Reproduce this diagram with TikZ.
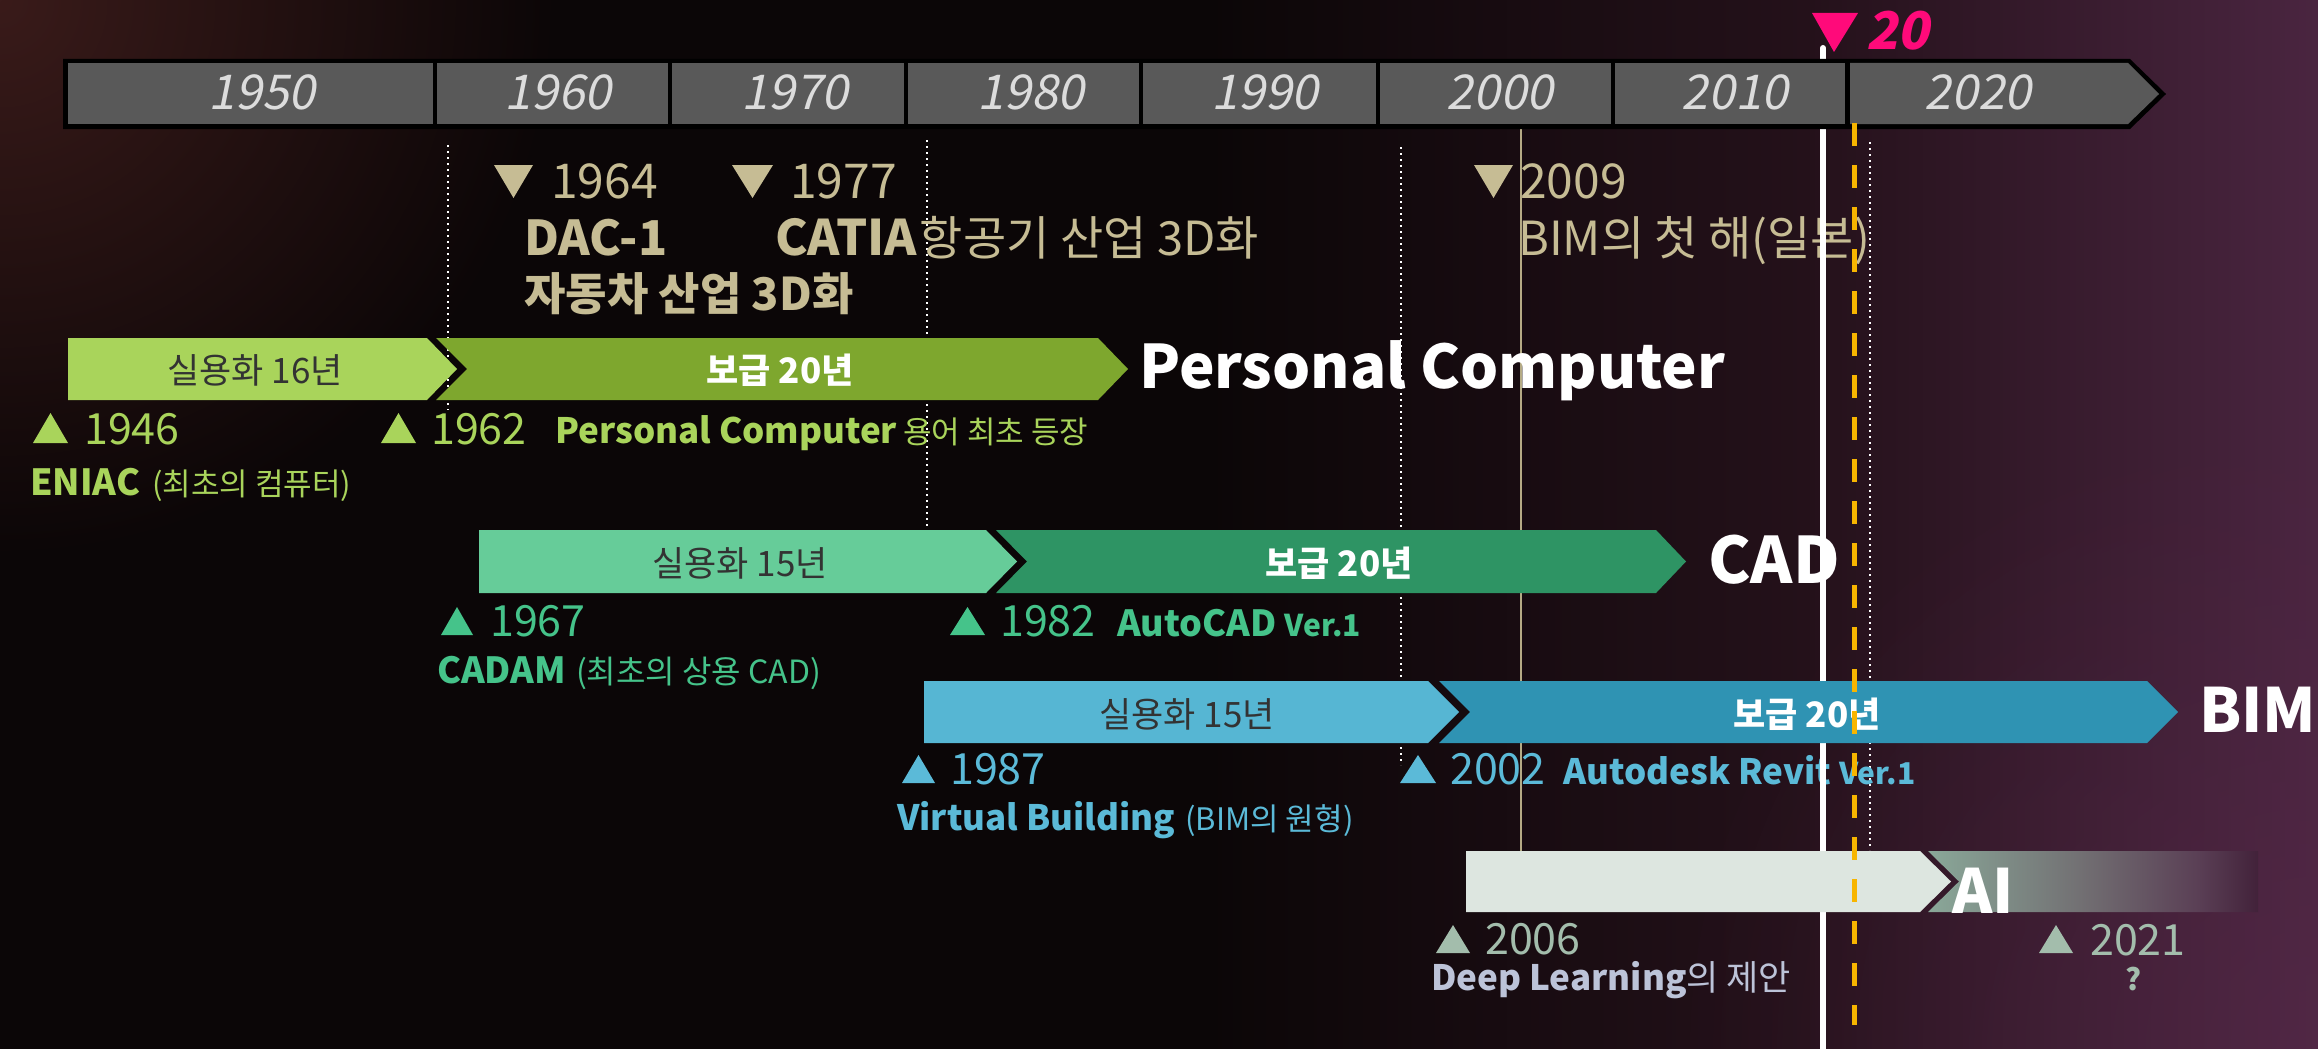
\documentclass[tikz,border=0pt]{standalone}
\usepackage{fontspec}
\setmainfont{Noto Sans CJK KR}
\newfontfamily\slantfont[FakeSlant=0.2]{Noto Sans CJK KR}
\usetikzlibrary{fadings}

\newcommand{\fsz}[1]{\fontsize{#1pt}{#1pt}\selectfont}

% palette
\definecolor{bgA}{HTML}{0B0607}
\definecolor{bgB}{HTML}{24111A}
\definecolor{bgC}{HTML}{4A2540}
\definecolor{glowred}{HTML}{3A1B1A}
\definecolor{glowpurple}{HTML}{5A2A4C}
\definecolor{cellgray}{HTML}{595959}
\definecolor{yeargray}{HTML}{DCDCDC}
\definecolor{tanc}{HTML}{C6BC94}
\definecolor{tanline}{HTML}{B5AB85}
\definecolor{hotpink}{HTML}{FF0A7A}
\definecolor{amber}{HTML}{F7B500}
\definecolor{darktext}{HTML}{333333}
\definecolor{pcA}{HTML}{A9D45B}
\definecolor{pcB}{HTML}{7EA72E}
\definecolor{cadA}{HTML}{66CC99}
\definecolor{cadB}{HTML}{2E9464}
\definecolor{cadT}{HTML}{45C38A}
\definecolor{bimA}{HTML}{56B6D3}
\definecolor{bimB}{HTML}{2F93B3}
\definecolor{bimT}{HTML}{5BBAD8}
\definecolor{aiA}{HTML}{DDE6E0}
\definecolor{aiT}{HTML}{A3BDAC}
\definecolor{dlT}{HTML}{BCC3D8}
\definecolor{aiG1}{HTML}{8AA899}
\definecolor{aiG2}{HTML}{727073}
\definecolor{aiG3}{HTML}{5A3F55}
\definecolor{aiG4}{HTML}{42223A}

\pgfdeclarehorizontalshading{bgshade}{100bp}{color(0bp)=(bgA); color(25bp)=(bgA); color(51bp)=(bgA); color(64bp)=(bgB); color(75bp)=(bgC); color(100bp)=(bgC)}
\pgfdeclarehorizontalshading{aishade}{100bp}{color(0bp)=(aiG1); color(25bp)=(aiG1); color(48bp)=(aiG2); color(66bp)=(aiG3); color(75bp)=(aiG4); color(100bp)=(aiG4)}
\tikzfading[name=glowfade, inner color=transparent!0, outer color=transparent!100]

\tikzset{
  lbl/.style={inner sep=0pt, anchor=base west},
  yr/.style={inner sep=0pt, anchor=base, text=yeargray, font=\slantfont\fsz{48}},
  barlbl/.style={inner sep=0pt, anchor=base, font=\fsz{35}, text=darktext},
  barlblb/.style={inner sep=0pt, anchor=base, font=\fsz{35}\bfseries, text=white},
  biglbl/.style={inner sep=0pt, anchor=base west, font=\fsz{61}\bfseries, text=white},
  yearlbl/.style={inner sep=0pt, anchor=base west, font=\fsz{43}},
  dotline/.style={white, line width=2pt, dash pattern=on 2pt off 4pt},
}

\begin{document}
\begin{tikzpicture}[x=1pt,y=-1pt]
\useasboundingbox (0,0) rectangle (2318,1049);

% ---------- background ----------
\begin{scope}
  \clip (0,0) rectangle (2318,1049);
  \shade[shading=bgshade] (0,0) rectangle (2318,1049);
  \fill[glowred, path fading=glowfade] (0,0) circle [radius=560];
  \fill[glowpurple, opacity=0.45, path fading=glowfade] (2318,1049) circle [radius=650];
\end{scope}

% ---------- guide lines ----------
\draw[dotline] (448,145) -- (448,410);
\draw[dotline] (927,140) -- (927,530);
\draw[dotline] (1401,147) -- (1401,765);
\draw[dotline] (1870,142) -- (1870,850);
\draw[tanline, line width=2pt] (1521,128) -- (1521,912);

% ---------- milestone notes above the bars ----------
\fill[tanc] (494,165) -- (533,165) -- (513.5,198) -- cycle;
\node[lbl, text=tanc, font=\fsz{48}] (n1964) at (551,198) {1964};
\fill[tanc] (732,165) -- (773,165) -- (752.5,198) -- cycle;
\node[lbl, text=tanc, font=\fsz{48}] (n1977) at (790,198) {1977};
\node[lbl, text=tanc, font=\fsz{48}\bfseries] (dac) at (524,255) {DAC-1};
\node[lbl, text=tanc, font=\fsz{47}] (catia) at (775,255) {{\fsz{49}\bfseries CATIA}\hspace{3pt}항공기 산업 3D화};
\node[lbl, text=tanc, font=\fsz{45}\bfseries] (auto3d) at (524,310) {자동차 산업 3D화};
\fill[tanc] (1474,165) -- (1513,165) -- (1493.5,198) -- cycle;
\node[lbl, text=tanc, font=\fsz{48}] (n2009) at (1520,198) {2009};
\node[lbl, text=tanc, font=\fsz{47}] (bimjp) at (1518,255) {BIM의 첫 해(일본)};

% ---------- Personal Computer notes ----------
\fill[pcA] (33,443) -- (68,443) -- (50.5,413) -- cycle;
\node[yearlbl, text=pcA] (n1946) at (84,444) {1946};
\fill[pcA] (381,443) -- (416,443) -- (398.5,413) -- cycle;
\node[yearlbl, text=pcA] (n1962) at (431,444) {1962};
\node[lbl, text=pcA, font=\fsz{35}\bfseries] (pcterm) at (555,443) {Personal Computer\hspace{6pt}{\mdseries\fsz{31}용어 최초 등장}};
\node[lbl, text=pcA, font=\fsz{36}\bfseries] (eniac) at (30,495) {ENIAC\hspace{12pt}{\mdseries\fsz{31}(최초의 컴퓨터)}};

% ---------- CAD notes ----------
\fill[cadT] (441,635) -- (473,635) -- (457,607) -- cycle;
\node[yearlbl, text=cadT] (n1967) at (490,636) {1967};
\fill[cadT] (950,635) -- (985,635) -- (967.5,607) -- cycle;
\node[yearlbl, text=cadT] (n1982) at (1000,636) {1982};
\node[lbl, text=cadT, font=\fsz{36}\bfseries] (acad) at (1117,636) {AutoCAD {\fsz{30}Ver.1}};
\node[lbl, text=cadT, font=\fsz{36}\bfseries] (cadam) at (437,683) {CADAM\hspace{10pt}{\mdseries\fsz{32}(최초의 상용 CAD)}};

% ---------- BIM notes ----------
\fill[bimT] (902,783) -- (935,783) -- (918.5,755) -- cycle;
\node[yearlbl, text=bimT] (n1987) at (950,784) {1987};
\fill[bimT] (1400,783) -- (1436,783) -- (1418,755) -- cycle;
\node[yearlbl, text=bimT] (n2002) at (1450,784) {2002};
\node[lbl, text=bimT, font=\fsz{35}\bfseries] (revit) at (1563,784) {Autodesk Revit {\fsz{30}Ver.1}};
\node[lbl, text=bimT, font=\fsz{35}\bfseries] (vb) at (897,830) {Virtual Building\hspace{10pt}{\mdseries\fsz{31}(BIM의 원형)}};

% ---------- AI notes ----------
\fill[aiT] (1436,953) -- (1470,953) -- (1453,925) -- cycle;
\node[yearlbl, text=aiT] (n2006) at (1485,954) {2006};
\node[lbl, text=dlT, font=\fsz{35}] (deepl) at (1431,990) {\textbf{Deep Learning}의 제안};
\fill[aiT] (2039,953) -- (2073,953) -- (2056,925) -- cycle;
\node[yearlbl, text=aiT] (n2021) at (2090,955) {2021};
\node[inner sep=0pt, anchor=base, text=aiT, font=\fsz{30}\bfseries] (qmark) at (2134,990) {?};

% ---------- present-day marker ----------
\draw[white, line width=6pt, line cap=round] (1823,48) -- (1823,1049);

% ---------- decade ruler ----------
\fill[black] (63,59) -- (2130,59) -- (2166,94) -- (2130,129) -- (63,129) -- cycle;
\fill[cellgray] (68,63) rectangle (433,124);
\fill[cellgray] (437,63) rectangle (668,124);
\fill[cellgray] (672,63) rectangle (904,124);
\fill[cellgray] (908,63) rectangle (1139,124);
\fill[cellgray] (1143,63) rectangle (1376,124);
\fill[cellgray] (1380,63) rectangle (1611,124);
\fill[cellgray] (1615,63) rectangle (1845,124);
\fill[cellgray] (1850,63) -- (2128,63) -- (2159,94) -- (2128,124) -- (1850,124) -- cycle;
\node[yr] (d1950) at (262,110) {1950};
\node[yr] (d1960) at (558,110) {1960};
\node[yr] (d1970) at (795,110) {1970};
\node[yr] (d1980) at (1031,110) {1980};
\node[yr] (d1990) at (1265,110) {1990};
\node[yr] (d2000) at (1500,110) {2000};
\node[yr] (d2010) at (1735,110) {2010};
\node[yr] (d2020) at (1978,110) {2020};

% ---------- technology bars ----------
% Personal Computer
\fill[pcA] (68,338) -- (427,338) -- (457,369) -- (427,400) -- (68,400) -- cycle;
\fill[pcB] (436,338) -- (1098,338) -- (1128,369) -- (1098,400) -- (436,400) -- (467,369) -- cycle;
\node[barlbl] (pc1) at (255,383) {실용화 16년};
\node[barlblb] (pc2) at (780,383) {보급 20년};
\node[biglbl, font=\fsz{60}\bfseries] (pcname) at (1139,388) {Personal Computer};
% CAD
\fill[cadA] (479,530) -- (986,530) -- (1017,561.5) -- (986,593) -- (479,593) -- cycle;
\fill[cadB] (996,530) -- (1656,530) -- (1686,561.5) -- (1656,593) -- (996,593) -- (1027,561.5) -- cycle;
\node[barlbl] (cad1) at (740,576) {실용화 15년};
\node[barlblb] (cad2) at (1339,576) {보급 20년};
\node[biglbl, font=\fsz{64}\bfseries] (cadname) at (1708,583) {CAD};
% BIM
\fill[bimA] (924,681) -- (1428,681) -- (1459,712) -- (1428,743) -- (924,743) -- cycle;
\fill[bimB] (1439,681) -- (2147,681) -- (2178,712) -- (2147,743) -- (1439,743) -- (1470,712) -- cycle;
\node[barlbl] (bim1) at (1187,727) {실용화 15년};
\node[barlblb] (bim2) at (1807,727) {보급 20년};
\node[biglbl] (bimname) at (2199,732) {BIM};
% AI
\fill[aiA] (1466,851) -- (1920,851) -- (1951,881.5) -- (1920,912) -- (1466,912) -- cycle;
\shade[shading=aishade] (1928,851) -- (2258,851) -- (2258,912) -- (1928,912) -- (1959,881.5) -- cycle;
\node[biglbl] (ainame) at (1952,913) {AI};

% ---------- twenty-year mark ----------
\draw[amber, line width=5pt, dash pattern=on 23pt off 19pt] (1854,123) -- (1854,1025);
\fill[hotpink] (1812,13) -- (1858,13) -- (1834,52) -- cycle;
\node[lbl, text=hotpink, font=\slantfont\bfseries\fsz{52}] (twenty) at (1866,50) {20};

\end{tikzpicture}
\end{document}
